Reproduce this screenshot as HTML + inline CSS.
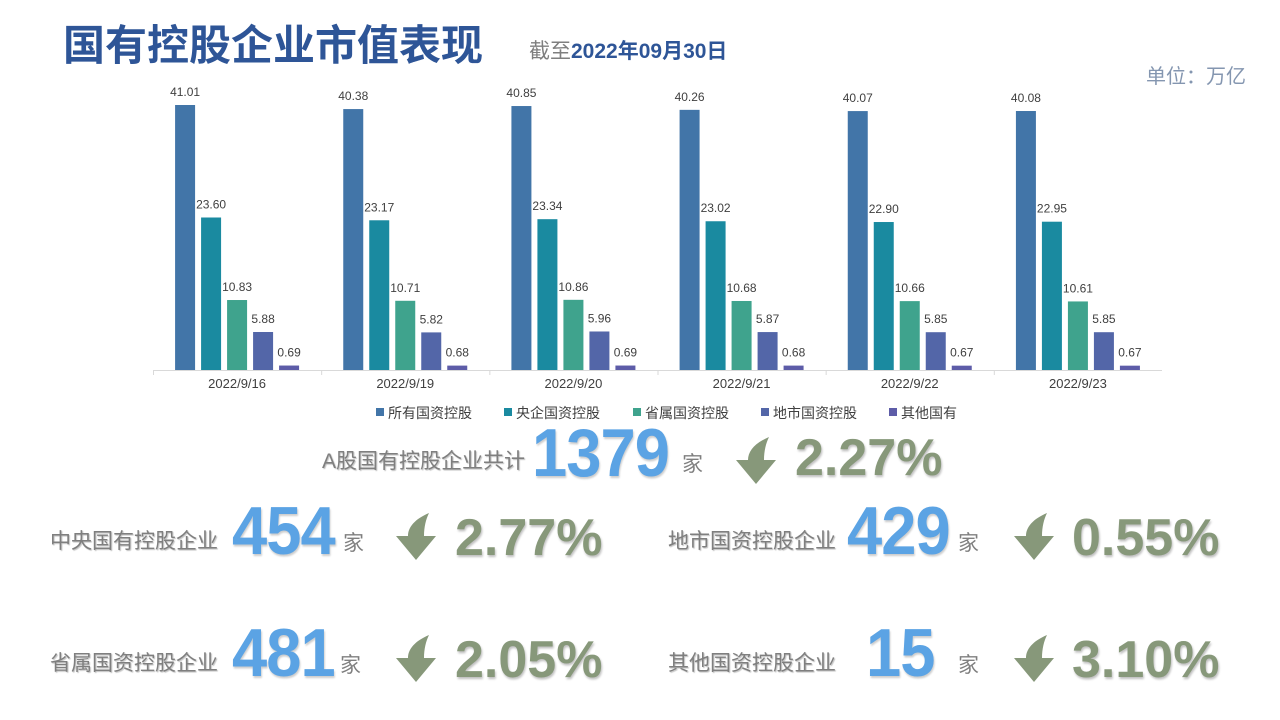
<!DOCTYPE html>
<html><head><meta charset="utf-8">
<style>
body{margin:0;width:1280px;height:720px;background:#fff;overflow:hidden;position:relative;font-family:"Liberation Sans","Noto Sans CJK SC",sans-serif}
.abs{position:absolute;white-space:nowrap}
.lab{font-size:21px;color:#7f7f7f;text-shadow:1px 1px 1px rgba(0,0,0,.25)}
.num{font-weight:bold;font-size:68px;color:#5ba3e4;line-height:1;text-shadow:1px 2px 2px rgba(0,0,0,.2);transform:scaleX(0.93);transform-origin:0 0;letter-spacing:-1px}
.jia{font-size:21px;color:#7f7f7f}
.pct{font-weight:bold;font-size:52px;color:#87987a;line-height:1;text-shadow:1px 2px 2px rgba(0,0,0,.25)}
</style></head><body>
<div class="abs" style="left:63px;top:15px;font-size:42px;font-weight:bold;color:#2e5597;font-family:'Noto Sans CJK SC',sans-serif;line-height:56px">国有控股企业市值表现</div>
<div class="abs" style="left:529px;top:38px;font-size:21px;color:#7f7f7f;line-height:28px">截至<b style="color:#2e5597">2022年09月30日</b></div>
<div class="abs" style="left:1146px;top:64px;font-size:20px;color:#8496b0;line-height:26px">单位：万亿</div>

<svg id="chart" class="abs" style="left:0;top:0" width="1280" height="430"></svg>

<script>
const categories=["2022/9/16","2022/9/19","2022/9/20","2022/9/21","2022/9/22","2022/9/23"];
const seriesNames=["所有国资控股","央企国资控股","省属国资控股","地市国资控股","其他国有"];
const allSOE=[41.01,40.38,40.85,40.26,40.07,40.08];
const centralSOE=[23.60,23.17,23.34,23.02,22.90,22.95];
const provSOE=[10.83,10.71,10.86,10.68,10.66,10.61];
const localSOE=[5.88,5.82,5.96,5.87,5.85,5.85];
const otherSOE=[0.69,0.68,0.69,0.68,0.67,0.67];
const series=[allSOE,centralSOE,provSOE,localSOE,otherSOE];
const colors=["#4275a8","#1a8aa0","#3fa38d","#5366a8","#5d5ca8"];
const svg=document.getElementById('chart');
const NS="http://www.w3.org/2000/svg";
const x0=153,x1=1162,base=370,scale=265/41.01;
const gw=(x1-x0)/categories.length;
const y=v=>base-v*scale;
function mk(t,a){const e=document.createElementNS(NS,t);for(const k in a)e.setAttribute(k,a[k]);svg.appendChild(e);return e;}
const ax=mk('line',{x1:x0,x2:x1,y1:base+0.5,y2:base+0.5,stroke:'#d9d9d9'});


categories.forEach((c,i)=>{
  const cx=x0+gw*(i+0.5);
  const tk=mk('line',{x1:x0+gw*i+0.5,x2:x0+gw*i+0.5,y1:base,y2:base+5,stroke:'#d9d9d9'});
  
  
  const t=mk('text',{x:cx,y:base+18,'text-anchor':'middle','font-size':13,fill:'#404040'});
  t.textContent=c;
  
  
  series.forEach((s,j)=>{
    const bx=cx-62+j*26,v=s[i];
    const r=mk('rect',{x:bx,y:y(v),width:20,height:base-y(v),fill:colors[j]});
    
    
    const l=mk('text',{x:bx+10,y:y(v)-9,'text-anchor':'middle','font-size':12,fill:'#404040'});
    l.textContent=v.toFixed(2);
    
    
  });
});
const lx=[376,504,633,761,889];
seriesNames.forEach((n,j)=>{
  const r=mk('rect',{x:lx[j],y:408,width:8,height:8,fill:colors[j]});
  
  
  const t=mk('text',{x:lx[j]+12,y:418,'font-size':14,fill:'#404040'});
  t.textContent=n;
  
  
});
</script>

<div>
<div class="abs lab" style="right:755px;top:445px">A股国有控股企业共计</div>
<div class="abs num" style="left:532px;top:419px">1379</div>
<div class="abs jia" style="left:682px;top:448px">家</div>
<svg class="abs" style="left:735px;top:437px" width="42" height="48"><path d="M34,0 C20,6 13,14 13,23 L1,23 L21,47 L41,23 L29,23 C29,14 31,6 34,0 Z" fill="#87987a"/></svg>
<div class="abs pct" style="left:795px;top:432px">2.27%</div>
</div>

<div>
<div class="abs lab" style="left:50px;top:525px">中央国有控股企业</div>
<div class="abs num" style="left:232px;top:497px">454</div>
<div class="abs jia" style="left:343px;top:527px">家</div>
<svg class="abs" style="left:395px;top:513px" width="42" height="48"><path d="M34,0 C20,6 13,14 13,23 L1,23 L21,47 L41,23 L29,23 C29,14 31,6 34,0 Z" fill="#87987a"/></svg>
<div class="abs pct" style="left:455px;top:512px">2.77%</div>
</div>

<div>
<div class="abs lab" style="left:668px;top:525px">地市国资控股企业</div>
<div class="abs num" style="left:847px;top:497px">429</div>
<div class="abs jia" style="left:958px;top:527px">家</div>
<svg class="abs" style="left:1013px;top:513px" width="42" height="48"><path d="M34,0 C20,6 13,14 13,23 L1,23 L21,47 L41,23 L29,23 C29,14 31,6 34,0 Z" fill="#87987a"/></svg>
<div class="abs pct" style="left:1072px;top:512px">0.55%</div>
</div>

<div>
<div class="abs lab" style="left:50px;top:647px">省属国资控股企业</div>
<div class="abs num" style="left:232px;top:619px">481</div>
<div class="abs jia" style="left:340px;top:649px">家</div>
<svg class="abs" style="left:395px;top:635px" width="42" height="48"><path d="M34,0 C20,6 13,14 13,23 L1,23 L21,47 L41,23 L29,23 C29,14 31,6 34,0 Z" fill="#87987a"/></svg>
<div class="abs pct" style="left:455px;top:634px">2.05%</div>
</div>

<div>
<div class="abs lab" style="left:668px;top:647px">其他国资控股企业</div>
<div class="abs num" style="left:866px;top:619px">15</div>
<div class="abs jia" style="left:958px;top:649px">家</div>
<svg class="abs" style="left:1013px;top:635px" width="42" height="48"><path d="M34,0 C20,6 13,14 13,23 L1,23 L21,47 L41,23 L29,23 C29,14 31,6 34,0 Z" fill="#87987a"/></svg>
<div class="abs pct" style="left:1072px;top:634px">3.10%</div>
</div>
</body></html>
